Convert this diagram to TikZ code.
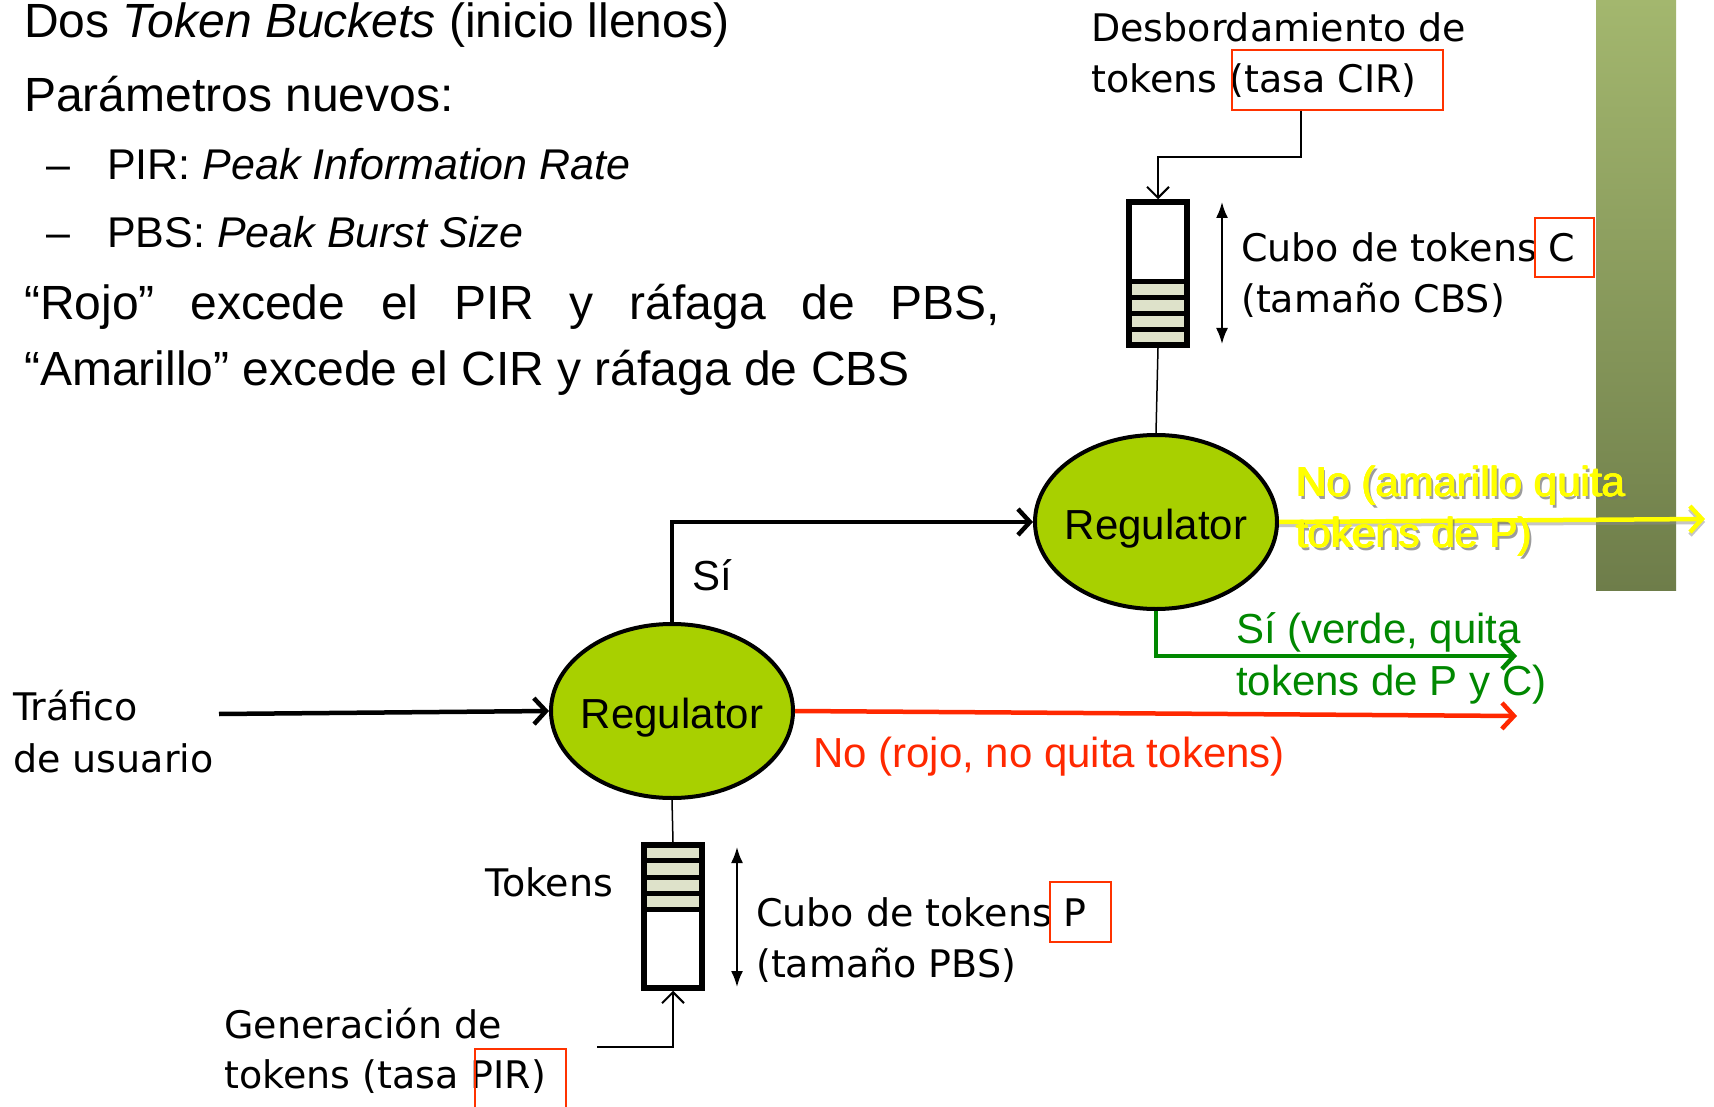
\documentclass[tikz,border=0pt]{standalone}
\usepackage{fontspec}
\setmainfont{Liberation Sans}
\newfontfamily\comic{DejaVu Sans}
\usetikzlibrary{arrows.meta,shapes.geometric,calc}
\definecolor{reggreen}{RGB}{168,208,0}
\definecolor{tokfill}{RGB}{222,226,202}
\definecolor{boxred}{RGB}{255,51,0}
\definecolor{arrred}{RGB}{255,40,0}
\definecolor{okgreen}{RGB}{0,136,0}
\definecolor{yel}{RGB}{255,255,0}
\definecolor{barTop}{RGB}{163,183,110}
\definecolor{barBot}{RGB}{110,125,74}
\tikzset{
  artxt/.style={font=\fontsize{48}{56}\selectfont, anchor=base west, inner sep=0pt},
  bultxt/.style={font=\fontsize{43}{50}\selectfont, anchor=base west, inner sep=0pt},
  lbtxt/.style={font=\fontsize{42}{50}\selectfont, anchor=base west, inner sep=0pt},
  comictxt/.style={font=\comic\fontsize{38}{46}\selectfont, anchor=base west, inner sep=0pt},
  regnode/.style={ellipse, draw, line width=4pt, fill=reggreen, minimum width=242pt, minimum height=174pt, inner sep=0pt, text height=0pt, text depth=0pt, font=\fontsize{42}{50}\selectfont},
  bucketnode/.style={draw, line width=5.5pt, minimum width=58pt, minimum height=143pt, inner sep=0pt},
  redbox/.style={draw=boxred, line width=2pt, inner sep=0pt},
  bigconn/.style={line width=4.5pt, -{Straight Barb[length=12pt,width=26pt]}},
  thinconn/.style={line width=2pt, -{Straight Barb[length=11pt,width=22pt]}},
  dblarrow/.style={line width=2pt, {Latex[length=16pt,width=12pt]}-{Latex[length=16pt,width=12pt]}},
  thinline/.style={line width=1.5pt}
}
\newcommand{\yeltext}[2]{%
  \node[lbtxt, text=black!55, opacity=0.7] at ($(#1)+(2.5,3)$) {#2};
  \foreach \dx/\dy in {0/0,0.8/0,0/0.8,0.8/0.8,-0.4/0.4}
    \node[lbtxt, text=yel] at ($(#1)+(\dx,\dy)$) {#2};
}
\newcommand{\regtext}{\raisebox{-17pt}{\makebox[0pt][c]{Regulator}}}
\begin{document}
\begin{tikzpicture}[x=1pt,y=-1pt]
\useasboundingbox (0,0) rectangle (1714,1107);
\fill[white] (0,0) rectangle (1714,1107);
% side bar
\shade[top color=barTop, bottom color=barBot] (1596,0) rectangle (1676,590);

% title text
\node[artxt] (t1) at (24,38) {Dos \textit{Token Buckets} (inicio llenos)};
\node[artxt] (t2) at (24,112) {Parámetros nuevos:};
\node[bultxt] (t3d) at (46,180) {–};
\node[bultxt] (t3) at (107,180) {PIR: \textit{Peak Information Rate}};
\node[bultxt] (t4d) at (46,248) {–};
\node[bultxt] (t4) at (107,248) {PBS: \textit{Peak Burst Size}};
\node[artxt] (t5) at (24,320) {\makebox[976pt][s]{“Rojo” excede el PIR y ráfaga de PBS,}};
\node[artxt] (t6) at (24,385) {“Amarillo” excede el CIR y ráfaga de CBS};

% regulators
\node[regnode] (reg1) at (672,711) {\regtext};
\node[regnode] (reg2) at (1156,522) {\regtext};

% bucket C
\node[bucketnode] (bc) at (1158,273.5) {};
\fill[tokfill] (1129,281.5) rectangle (1187,345);
\foreach \yy in {281.5,297.5,313.5,329.5}
  \draw[line width=5pt] (1129,\yy) -- (1187,\yy);
\node[bucketnode] at (bc) {};
\draw[dblarrow] (1222,202) -- (1222,344);

% bucket P
\node[bucketnode] (bp) at (673,916.5) {};
\fill[tokfill] (644,845) rectangle (702,909.7);
\foreach \yy in {860.8,877.1,893.4,909.7}
  \draw[line width=5pt] (644,\yy) -- (702,\yy);
\node[bucketnode] at (bp) {};
\draw[dblarrow] (737,847) -- (737,987);

% comic texts
\node[comictxt] (desb1) at (1091,42) {Desbordamiento de};
\node[comictxt] (desb2) at (1091,93) {tokens (tasa CIR)};
\node[redbox, minimum width=211pt, minimum height=60pt] (cirbox) at (1337.5,80) {};
\node[comictxt] (cubc1) at (1241,262) {Cubo de tokens C};
\node[comictxt] (cubc2) at (1241,313) {(tamaño CBS)};
\node[redbox, minimum width=59pt, minimum height=59pt] (cbox) at (1564.5,247.5) {};
\node[comictxt] (tok) at (485,896) {Tokens};
\node[comictxt] (cubp1) at (756,926) {Cubo de tokens P};
\node[comictxt] (cubp2) at (756,977) {(tamaño PBS)};
\node[redbox, minimum width=61pt, minimum height=60pt] (pbox) at (1080.5,912) {};
\node[comictxt] (gen1) at (224,1038) {Generación de};
\node[comictxt] (gen2) at (224,1088) {tokens (tasa PIR)};
\draw[boxred, line width=2pt] (475,1112) -- (475,1049) -- (566,1049) -- (566,1112);
\node[comictxt] (traf1) at (13,720) {Tráfico};
\node[comictxt] (traf2) at (13,772) {de usuario};

% connectors
\coordinate (trafstart) at (219,714);
\coordinate (genstart) at (597,1047);
\coordinate (redend) at (1517,716);
\coordinate (greenend) at (1517,656);
\coordinate (yelend) at (1705,519);

\draw[thinconn] ([xshift=70pt]cirbox.south west) -- ++(0,46) -| (bc.north);
\draw[thinline] (bc.south) -- (reg2.north);
\draw[thinline] (reg1.south) -- (bp.north);
\draw[thinconn] (genstart) -| (bp.south);
\draw[bigconn] (trafstart) -- (reg1.west);
\draw[bigconn] (reg1.north) |- (reg2.west);
\draw[bigconn, arrred] (reg1.east) -- (redend);
\draw[bigconn, okgreen] (reg2.south) |- (greenend);
\draw[bigconn, black!45, opacity=0.5] ([yshift=-3pt]reg2.east) -- ([yshift=-3pt]yelend);
\draw[bigconn, yel] (reg2.east) -- (yelend);

% labels
\node[lbtxt] (si) at (692,590) {Sí};
\node[lbtxt, text=arrred] (nored) at (813,767) {No (rojo, no quita tokens)};
\node[lbtxt, text=okgreen] (siv1) at (1236,643) {Sí (verde, quita};
\node[lbtxt, text=okgreen] (siv2) at (1236,695) {tokens de P y C)};
\coordinate (am1) at (1296,496);
\coordinate (am2) at (1296,547);
\yeltext{am1}{No (amarillo quita}
\yeltext{am2}{tokens de P)}
\end{tikzpicture}
\end{document}
